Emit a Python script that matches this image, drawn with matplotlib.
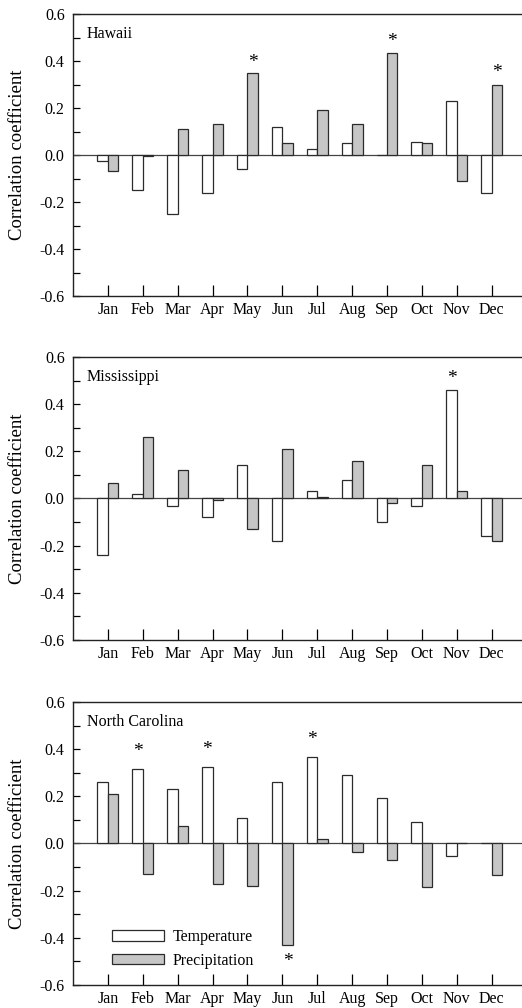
import numpy as np
import matplotlib
matplotlib.use("Agg")
import matplotlib.pyplot as plt
from matplotlib.ticker import MultipleLocator, FormatStrFormatter

plt.rcParams["font.family"] = ["Liberation Serif", "DejaVu Serif"]

MONTHS = ["Jan", "Feb", "Mar", "Apr", "May", "Jun",
          "Jul", "Aug", "Sep", "Oct", "Nov", "Dec"]

STATES = ["Hawaii", "Mississippi", "North Carolina"]

hawaii_temp = [-0.025, -0.15, -0.25, -0.16, -0.06, 0.12, 0.025, 0.05, 0.0, 0.055, 0.23, -0.16]
hawaii_prec = [-0.07, -0.003, 0.11, 0.13, 0.35, 0.053, 0.19, 0.13, 0.433, 0.05, -0.11, 0.30]

miss_temp = [-0.24, 0.02, -0.03, -0.08, 0.14, -0.18, 0.03, 0.08, -0.10, -0.03, 0.46, -0.16]
miss_prec = [0.064, 0.26, 0.12, -0.005, -0.13, 0.21, 0.008, 0.16, -0.02, 0.14, 0.03, -0.18]

nc_temp = [0.26, 0.315, 0.23, 0.325, 0.11, 0.26, 0.365, 0.29, 0.194, 0.092, -0.052, 0.003]
nc_prec = [0.211, -0.13, 0.074, -0.17, -0.181, -0.43, 0.021, -0.037, -0.072, -0.183, 0.003, -0.132]

# significant correlations: (month index, series, y position of the star)
hawaii_sig = [(4, "prec", 0.395), (8, "prec", 0.485), (11, "prec", 0.35)]
miss_sig = [(10, "temp", 0.51)]
nc_sig = [(1, "temp", 0.39), (3, "temp", 0.40), (6, "temp", 0.442), (5, "prec", -0.50)]

TEMP = [hawaii_temp, miss_temp, nc_temp]
PREC = [hawaii_prec, miss_prec, nc_prec]
SIG = [hawaii_sig, miss_sig, nc_sig]

W = 0.3
GREY = "#c6c6c6"
EDGE = "#2b2b2b"

fig = plt.figure(figsize=(5.22, 10.08), dpi=100)
boxes = [(0.1398, 0.7063, 0.8602, 0.2798),
         (0.1398, 0.3651, 0.8602, 0.2808),
         (0.1398, 0.0228, 0.8602, 0.2808)]

x = np.arange(1, 13)

for i, box in enumerate(boxes):
    ax = fig.add_axes(box)
    ax.bar(x - W / 2, TEMP[i], W, color="white", edgecolor=EDGE, linewidth=0.9,
           label="Temperature", zorder=3)
    ax.bar(x + W / 2, PREC[i], W, color=GREY, edgecolor=EDGE, linewidth=0.9,
           label="Precipitation", zorder=3)
    ax.axhline(0, color="#444444", linewidth=0.9, zorder=2)

    for m, series, ys in SIG[i]:
        xs = m + 1 - W / 2 if series == "temp" else m + 1 + W / 2
        ax.text(xs, ys, "*", ha="center", va="center", fontsize=14)

    ax.text(0.4, 0.515, STATES[i], ha="left", va="center", fontsize=11.5)

    ax.set_xlim(0, 12.87)
    ax.set_ylim(-0.6, 0.6)
    ax.set_xticks(x)
    ax.set_xticklabels(MONTHS)
    ax.yaxis.set_major_locator(MultipleLocator(0.2))
    ax.yaxis.set_minor_locator(MultipleLocator(0.1))
    ax.yaxis.set_major_formatter(FormatStrFormatter("%.1f"))
    ax.tick_params(axis="y", which="both", direction="in", length=5, width=0.9,
                   labelsize=11.5, pad=6)
    ax.tick_params(axis="x", direction="in", length=8, width=0.9,
                   labelsize=11.5, pad=4)
    ax.spines["right"].set_visible(False)
    for s in ["left", "top", "bottom"]:
        ax.spines[s].set_linewidth(1.0)
        ax.spines[s].set_color("#222222")
    ax.set_ylabel("Correlation coefficient", fontsize=13.5)
    ax.yaxis.set_label_coords(-0.105, 0.5)

    if i == 2:
        ax.legend(loc="lower left", bbox_to_anchor=(0.07, 0.03), frameon=False,
                  fontsize=11.5, handlelength=3.2, handleheight=0.65,
                  labelspacing=0.45, handletextpad=0.6, borderpad=0)

fig.savefig("out.png", dpi=100)
